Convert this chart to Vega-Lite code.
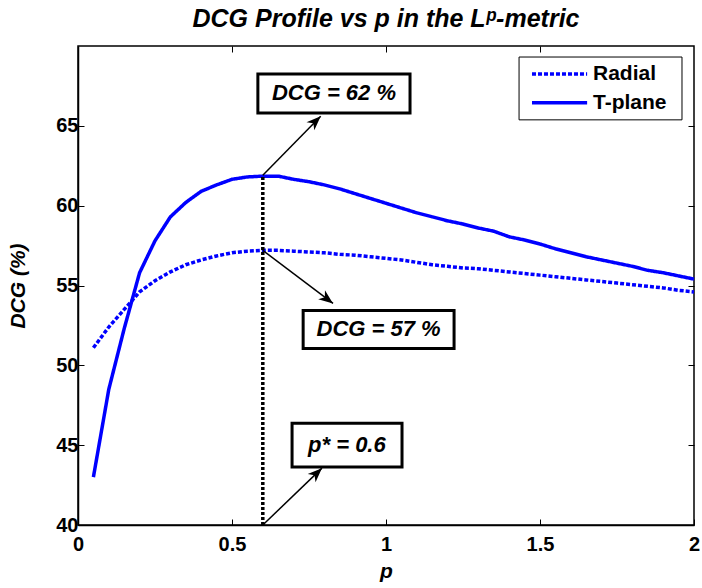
{
  "$schema": "https://vega.github.io/schema/vega-lite/v6.json",
  "width": 616,
  "height": 479,
  "autosize": {"type": "none"},
  "padding": {"left": 78, "top": 46, "right": 8, "bottom": 63},
  "background": "white",
  "config": {
    "view": {"stroke": "black", "strokeWidth": 1.5},
    "font": "Liberation Sans"
  },
  "title": {
    "text": "DCG Profile vs p in the Lᵖ-metric",
    "font": "Liberation Sans",
    "fontSize": 25,
    "fontWeight": "bold",
    "fontStyle": "italic",
    "color": "black",
    "anchor": "middle",
    "offset": 14
  },
  "datasets": {
    "curves": [
      {"p": 0.05, "dcg": 51.1, "series": "Radial"},
      {"p": 0.10, "dcg": 52.4, "series": "Radial"},
      {"p": 0.15, "dcg": 53.5, "series": "Radial"},
      {"p": 0.20, "dcg": 54.6, "series": "Radial"},
      {"p": 0.25, "dcg": 55.3, "series": "Radial"},
      {"p": 0.30, "dcg": 55.85, "series": "Radial"},
      {"p": 0.35, "dcg": 56.3, "series": "Radial"},
      {"p": 0.40, "dcg": 56.6, "series": "Radial"},
      {"p": 0.45, "dcg": 56.85, "series": "Radial"},
      {"p": 0.50, "dcg": 57.05, "series": "Radial"},
      {"p": 0.55, "dcg": 57.15, "series": "Radial"},
      {"p": 0.60, "dcg": 57.2, "series": "Radial"},
      {"p": 0.65, "dcg": 57.2, "series": "Radial"},
      {"p": 0.70, "dcg": 57.15, "series": "Radial"},
      {"p": 0.75, "dcg": 57.1, "series": "Radial"},
      {"p": 0.80, "dcg": 57.05, "series": "Radial"},
      {"p": 0.85, "dcg": 56.95, "series": "Radial"},
      {"p": 0.90, "dcg": 56.9, "series": "Radial"},
      {"p": 0.95, "dcg": 56.8, "series": "Radial"},
      {"p": 1.00, "dcg": 56.7, "series": "Radial"},
      {"p": 1.05, "dcg": 56.6, "series": "Radial"},
      {"p": 1.10, "dcg": 56.45, "series": "Radial"},
      {"p": 1.15, "dcg": 56.3, "series": "Radial"},
      {"p": 1.20, "dcg": 56.2, "series": "Radial"},
      {"p": 1.25, "dcg": 56.1, "series": "Radial"},
      {"p": 1.30, "dcg": 56.05, "series": "Radial"},
      {"p": 1.35, "dcg": 55.95, "series": "Radial"},
      {"p": 1.40, "dcg": 55.85, "series": "Radial"},
      {"p": 1.45, "dcg": 55.75, "series": "Radial"},
      {"p": 1.50, "dcg": 55.65, "series": "Radial"},
      {"p": 1.55, "dcg": 55.55, "series": "Radial"},
      {"p": 1.60, "dcg": 55.45, "series": "Radial"},
      {"p": 1.65, "dcg": 55.35, "series": "Radial"},
      {"p": 1.70, "dcg": 55.25, "series": "Radial"},
      {"p": 1.75, "dcg": 55.15, "series": "Radial"},
      {"p": 1.80, "dcg": 55.05, "series": "Radial"},
      {"p": 1.85, "dcg": 54.95, "series": "Radial"},
      {"p": 1.90, "dcg": 54.85, "series": "Radial"},
      {"p": 1.95, "dcg": 54.7, "series": "Radial"},
      {"p": 2.00, "dcg": 54.6, "series": "Radial"},
      {"p": 0.05, "dcg": 43.0, "series": "T-plane"},
      {"p": 0.10, "dcg": 48.5, "series": "T-plane"},
      {"p": 0.15, "dcg": 52.3, "series": "T-plane"},
      {"p": 0.20, "dcg": 55.8, "series": "T-plane"},
      {"p": 0.25, "dcg": 57.8, "series": "T-plane"},
      {"p": 0.30, "dcg": 59.3, "series": "T-plane"},
      {"p": 0.35, "dcg": 60.2, "series": "T-plane"},
      {"p": 0.40, "dcg": 60.9, "series": "T-plane"},
      {"p": 0.45, "dcg": 61.3, "series": "T-plane"},
      {"p": 0.50, "dcg": 61.65, "series": "T-plane"},
      {"p": 0.55, "dcg": 61.8, "series": "T-plane"},
      {"p": 0.60, "dcg": 61.85, "series": "T-plane"},
      {"p": 0.65, "dcg": 61.85, "series": "T-plane"},
      {"p": 0.70, "dcg": 61.65, "series": "T-plane"},
      {"p": 0.75, "dcg": 61.5, "series": "T-plane"},
      {"p": 0.80, "dcg": 61.3, "series": "T-plane"},
      {"p": 0.85, "dcg": 61.05, "series": "T-plane"},
      {"p": 0.90, "dcg": 60.75, "series": "T-plane"},
      {"p": 0.95, "dcg": 60.45, "series": "T-plane"},
      {"p": 1.00, "dcg": 60.15, "series": "T-plane"},
      {"p": 1.05, "dcg": 59.85, "series": "T-plane"},
      {"p": 1.10, "dcg": 59.55, "series": "T-plane"},
      {"p": 1.15, "dcg": 59.3, "series": "T-plane"},
      {"p": 1.20, "dcg": 59.05, "series": "T-plane"},
      {"p": 1.25, "dcg": 58.85, "series": "T-plane"},
      {"p": 1.30, "dcg": 58.6, "series": "T-plane"},
      {"p": 1.35, "dcg": 58.4, "series": "T-plane"},
      {"p": 1.40, "dcg": 58.05, "series": "T-plane"},
      {"p": 1.45, "dcg": 57.85, "series": "T-plane"},
      {"p": 1.50, "dcg": 57.6, "series": "T-plane"},
      {"p": 1.55, "dcg": 57.3, "series": "T-plane"},
      {"p": 1.60, "dcg": 57.05, "series": "T-plane"},
      {"p": 1.65, "dcg": 56.8, "series": "T-plane"},
      {"p": 1.70, "dcg": 56.6, "series": "T-plane"},
      {"p": 1.75, "dcg": 56.4, "series": "T-plane"},
      {"p": 1.80, "dcg": 56.2, "series": "T-plane"},
      {"p": 1.85, "dcg": 55.95, "series": "T-plane"},
      {"p": 1.90, "dcg": 55.8, "series": "T-plane"},
      {"p": 1.95, "dcg": 55.6, "series": "T-plane"},
      {"p": 2.00, "dcg": 55.4, "series": "T-plane"}
    ],
    "marker": [{"p": 0.6, "lo": 40, "hi": 61.9}],
    "arrows": [
      {"x0": 0.6, "y0": 61.9, "x1": 0.788, "y1": 65.6, "head": "up"},
      {"x0": 0.6, "y0": 57.2, "x1": 0.828, "y1": 53.875, "head": "down"},
      {"x0": 0.6, "y0": 40.0, "x1": 0.792, "y1": 43.56, "head": "up"}
    ],
    "boxes": [
      {"x0": 0.584, "x1": 1.078, "y0": 65.8, "y1": 68.25, "cx": 0.831, "cy": 67.03, "label": "DCG = 62 %"},
      {"x0": 0.731, "x1": 1.221, "y0": 51.06, "y1": 53.44, "cx": 0.976, "cy": 52.25, "label": "DCG = 57 %"},
      {"x0": 0.695, "x1": 1.052, "y0": 43.625, "y1": 46.375, "cx": 0.873, "cy": 45.0, "label": "p* = 0.6"}
    ],
    "legendbox": [{"x0": 1.432, "x1": 1.961, "y0": 65.375, "y1": 69.31}],
    "legenditems": [
      {"series": "Radial", "x0": 1.474, "x1": 1.653, "y": 68.25, "tx": 1.672},
      {"series": "T-plane", "x0": 1.474, "x1": 1.653, "y": 66.44, "tx": 1.672}
    ]
  },
  "layer": [
    {
      "data": {"name": "curves"},
      "mark": {"type": "line", "color": "#0000ff", "strokeWidth": 3.5},
      "encoding": {
        "x": {
          "field": "p", "type": "quantitative",
          "scale": {"domain": [0, 2], "nice": false, "zero": false},
          "axis": {
            "orient": "bottom", "values": [0, 0.5, 1, 1.5, 2], "format": "~g",
            "title": "p", "titleFont": "Liberation Sans", "titleFontSize": 21, "titleFontWeight": "bold", "titleFontStyle": "italic", "titleColor": "black", "titlePadding": 6,
            "labelFont": "Liberation Sans", "labelFontSize": 20, "labelFontWeight": "bold", "labelColor": "black", "labelPadding": 15,
            "tickSize": -6, "tickColor": "black", "tickWidth": 1, "domainColor": "black", "domainWidth": 1.5, "grid": false, "labelFlush": false, "labelOverlap": false
          }
        },
        "y": {
          "field": "dcg", "type": "quantitative",
          "scale": {"domain": [40, 70], "nice": false, "zero": false},
          "axis": {
            "orient": "left", "values": [40, 45, 50, 55, 60, 65],
            "title": "DCG (%)", "titleFont": "Liberation Sans", "titleFontSize": 21, "titleFontWeight": "bold", "titleFontStyle": "italic", "titleColor": "black", "titlePadding": 27,
            "labelFont": "Liberation Sans", "labelFontSize": 20, "labelFontWeight": "bold", "labelColor": "black", "labelPadding": 6,
            "tickSize": -6, "tickColor": "black", "tickWidth": 1, "domainColor": "black", "domainWidth": 1.5, "grid": false, "labelFlush": false, "labelOverlap": false
          }
        },
        "strokeDash": {
          "field": "series", "type": "nominal",
          "scale": {"domain": ["Radial", "T-plane"], "range": [[4, 2], [1, 0]]},
          "legend": null
        }
      }
    },
    {
      "data": {"name": "curves"},
      "mark": {"type": "point", "opacity": 0},
      "encoding": {
        "x": {"field": "p", "type": "quantitative", "axis": {"orient": "top", "values": [0.5, 1, 1.5], "labels": false, "title": null, "domain": false, "grid": false, "tickSize": -6, "tickColor": "black"}},
        "y": {"field": "dcg", "type": "quantitative", "axis": {"orient": "right", "values": [45, 50, 55, 60, 65], "labels": false, "title": null, "domain": false, "grid": false, "tickSize": -6, "tickColor": "black"}}
      }
    },
    {
      "data": {"name": "marker"},
      "mark": {"type": "rule", "color": "black", "strokeWidth": 3.5, "strokeDash": [3, 2]},
      "encoding": {
        "x": {"field": "p", "type": "quantitative", "axis": null},
        "y": {"field": "lo", "type": "quantitative", "axis": null},
        "y2": {"field": "hi"}
      }
    },
    {
      "data": {"name": "arrows"},
      "mark": {"type": "rule", "color": "black", "strokeWidth": 1.5},
      "encoding": {
        "x": {"field": "x0", "type": "quantitative", "axis": null},
        "y": {"field": "y0", "type": "quantitative", "axis": null},
        "x2": {"field": "x1"},
        "y2": {"field": "y1"}
      }
    },
    {
      "data": {"name": "arrows"},
      "transform": [{"filter": "datum.head == 'up'"}],
      "mark": {"type": "point", "shape": "M0,0L0.55,1.4L0,1L-0.55,1.4Z", "filled": true, "color": "black", "opacity": 1, "size": 420, "angle": 46},
      "encoding": {
        "x": {"field": "x1", "type": "quantitative", "axis": null},
        "y": {"field": "y1", "type": "quantitative", "axis": null}
      }
    },
    {
      "data": {"name": "arrows"},
      "transform": [{"filter": "datum.head == 'down'"}],
      "mark": {"type": "point", "shape": "M0,0L0.55,1.4L0,1L-0.55,1.4Z", "filled": true, "color": "black", "opacity": 1, "size": 420, "angle": 127},
      "encoding": {
        "x": {"field": "x1", "type": "quantitative", "axis": null},
        "y": {"field": "y1", "type": "quantitative", "axis": null}
      }
    },
    {
      "data": {"name": "boxes"},
      "mark": {"type": "rect", "fill": "white", "stroke": "black", "strokeWidth": 3},
      "encoding": {
        "x": {"field": "x0", "type": "quantitative", "axis": null},
        "x2": {"field": "x1"},
        "y": {"field": "y0", "type": "quantitative", "axis": null},
        "y2": {"field": "y1"}
      }
    },
    {
      "data": {"name": "boxes"},
      "mark": {"type": "text", "font": "Liberation Sans", "fontSize": 22, "fontWeight": "bold", "fontStyle": "italic", "color": "black", "align": "center", "baseline": "middle"},
      "encoding": {
        "x": {"field": "cx", "type": "quantitative", "axis": null},
        "y": {"field": "cy", "type": "quantitative", "axis": null},
        "text": {"field": "label"}
      }
    },
    {
      "data": {"name": "legendbox"},
      "mark": {"type": "rect", "fill": "white", "stroke": "black", "strokeWidth": 1},
      "encoding": {
        "x": {"field": "x0", "type": "quantitative", "axis": null},
        "x2": {"field": "x1"},
        "y": {"field": "y0", "type": "quantitative", "axis": null},
        "y2": {"field": "y1"}
      }
    },
    {
      "data": {"name": "legenditems"},
      "mark": {"type": "rule", "color": "#0000ff", "strokeWidth": 3.5},
      "encoding": {
        "x": {"field": "x0", "type": "quantitative", "axis": null},
        "x2": {"field": "x1"},
        "y": {"field": "y", "type": "quantitative", "axis": null},
        "strokeDash": {"field": "series", "type": "nominal", "legend": null}
      }
    },
    {
      "data": {"name": "legenditems"},
      "mark": {"type": "text", "font": "Liberation Sans", "fontSize": 21, "fontWeight": "bold", "color": "black", "align": "left", "baseline": "middle"},
      "encoding": {
        "x": {"field": "tx", "type": "quantitative", "axis": null},
        "y": {"field": "y", "type": "quantitative", "axis": null},
        "text": {"field": "series"}
      }
    }
  ],
  "resolve": {"axis": {"x": "independent", "y": "independent"}}
}
